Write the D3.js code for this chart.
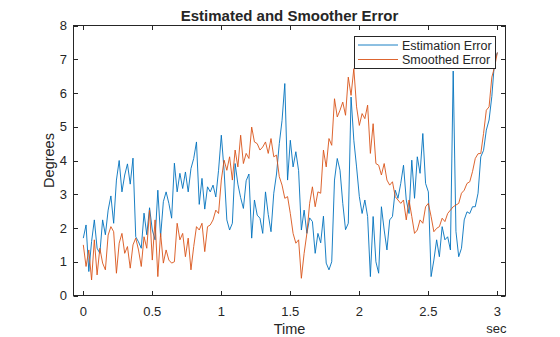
<!DOCTYPE html>
<html>
<head>
<meta charset="utf-8">
<script src="https://cdn.jsdelivr.net/npm/d3@7"></script>
<style>
  html, body { margin: 0; padding: 0; background: #fff; }
  svg { display: block; font-family: "Liberation Sans", Arial, Helvetica, sans-serif; }
  .tick-label { font-size: 13px; fill: #262626; }
</style>
</head>
<body>
<svg id="chart" width="560" height="337"></svg>
<script>
// sample spacing of both error traces (seconds)
const dt = 0.02;

// Estimation error, degrees
const estimationError = [
  1.70, 2.09, 0.71, 1.60, 2.24, 1.40, 1.25, 2.24, 1.80, 2.53,
  2.95, 2.14, 3.42, 4.00, 3.07, 3.57, 3.90, 3.30, 4.07, 1.74,
  1.59, 1.40, 2.44, 1.80, 2.60, 1.94, 1.65, 3.12, 1.74, 2.78,
  3.07, 2.73, 2.29, 3.92, 3.07, 3.62, 3.17, 3.66, 3.07, 3.76,
  4.06, 4.55, 2.70, 3.47, 2.56, 3.22, 3.07, 3.27, 2.92, 3.71,
  4.75, 3.71, 2.24, 1.94, 2.14, 3.91, 3.30, 2.90, 2.58, 3.40,
  3.60, 1.70, 2.83, 2.38, 2.29, 1.84, 3.07, 2.40, 1.89, 3.03,
  3.60, 4.50, 5.19, 6.28, 3.42, 4.60, 3.81, 4.26, 3.70, 1.94,
  2.53, 1.84, 2.30, 2.19, 1.25, 1.84, 1.56, 2.35, 0.96, 0.76,
  1.00, 3.42, 4.06, 3.71, 2.73, 1.95, 2.14, 5.88, 4.60, 3.81,
  2.93, 2.43, 2.83, 2.34, 0.56, 2.34, 1.00, 0.66, 2.63, 1.94,
  1.35, 2.24, 2.34, 3.12, 2.88, 3.32, 3.86, 2.83, 2.43, 4.01,
  2.88, 4.11, 3.62, 4.80, 3.32, 3.07, 0.56, 1.05, 1.65, 1.15,
  2.04, 1.65, 1.74, 1.35, 6.65, 1.90, 1.15, 1.40, 2.24, 2.48,
  2.43, 2.63, 2.63, 3.03, 4.11, 4.30, 4.90, 5.20, 5.90, 6.96,
  7.20
];

// Smoothed error, degrees
const smoothedError = [
  1.50, 0.86, 1.35, 0.46, 1.65, 0.61, 1.40, 0.96, 0.76, 1.79,
  2.04, 1.89, 0.66, 1.55, 1.84, 1.25, 1.45, 0.81, 1.50, 1.70,
  1.35, 0.86, 1.74, 1.40, 2.53, 1.05, 2.24, 0.56, 1.84, 0.96,
  1.35, 1.05, 0.96, 1.00, 2.14, 1.65, 1.84, 1.15, 1.70, 0.76,
  1.45, 2.04, 1.94, 2.14, 1.30, 2.04, 2.09, 2.24, 2.53, 2.43,
  3.42, 4.01, 3.71, 4.11, 3.42, 4.31, 3.81, 4.75, 3.91, 4.21,
  4.06, 4.99, 4.55, 4.50, 4.31, 4.40, 4.55, 4.21, 4.65, 4.11,
  4.16, 3.52, 3.27, 2.88, 2.93, 2.43, 1.84, 1.55, 1.65, 0.51,
  1.25, 1.84, 2.73, 3.22, 2.63, 3.07, 3.03, 4.31, 3.81, 4.65,
  4.45, 5.83, 5.29, 5.49, 5.73, 5.34, 6.47, 5.93, 6.72, 5.59,
  5.04, 5.39, 5.24, 5.64, 4.21, 5.09, 3.91, 3.86, 3.57, 3.91,
  3.42, 3.27, 3.37, 2.93, 2.83, 2.73, 2.83, 2.24, 2.83, 2.34,
  1.84, 1.94, 2.24, 2.14, 2.63, 2.73, 2.34, 1.89, 1.99, 2.04,
  2.29, 2.19, 2.43, 2.53, 2.63, 2.68, 2.73, 3.03, 3.12, 3.32,
  3.37, 3.67, 4.06, 4.20, 4.21, 4.80, 5.49, 5.59, 6.47, 6.77,
  7.20
];

const xTicks = [0, 0.5, 1, 1.5, 2, 2.5, 3];
const yTicks = [0, 1, 2, 3, 4, 5, 6, 7, 8];
const seriesNames = ["Estimation Error", "Smoothed Error"];
const seriesColors = ["#0072BD", "#D95319"];

const ink = "#262626";
const plotLeft = 73.5, plotRight = 505.5, plotTop = 25.5, plotBottom = 295.5;

const svg = d3.select("#chart");

const x = d3.scaleLinear().domain([-0.071, 3.059]).range([plotLeft, plotRight]);
const y = d3.scaleLinear().domain([0, 8]).range([plotBottom, plotTop]);

svg.append("defs").append("clipPath").attr("id", "plot-clip")
  .append("rect")
  .attr("x", plotLeft).attr("y", plotTop)
  .attr("width", plotRight - plotLeft).attr("height", plotBottom - plotTop);

// the two traces
const line = d3.line()
  .x((d, i) => x(i * dt))
  .y(d => y(d));

const traces = svg.append("g").attr("clip-path", "url(#plot-clip)");
[estimationError, smoothedError].forEach((values, i) => {
  traces.append("path")
    .datum(values)
    .attr("fill", "none")
    .attr("stroke", seriesColors[i])
    .attr("stroke-width", 0.9)
    .attr("stroke-linejoin", "round")
    .attr("d", line);
});

// box axes with inward ticks on all four sides
const tickLen = 4.5;
const axisG = svg.append("g");

axisG.append("rect")
  .attr("x", plotLeft).attr("y", plotTop)
  .attr("width", plotRight - plotLeft).attr("height", plotBottom - plotTop)
  .attr("fill", "none").attr("stroke", ink).attr("stroke-width", 1);

const xPos = xTicks.map(v => Math.round(x(v)) + 0.5);
axisG.selectAll(".xtick-b").data(xPos).join("line")
  .attr("class", "xtick-b")
  .attr("x1", d => d).attr("x2", d => d)
  .attr("y1", plotBottom).attr("y2", plotBottom - tickLen)
  .attr("stroke", ink);
axisG.selectAll(".xtick-t").data(xPos).join("line")
  .attr("class", "xtick-t")
  .attr("x1", d => d).attr("x2", d => d)
  .attr("y1", plotTop).attr("y2", plotTop + tickLen)
  .attr("stroke", ink);

const yPos = yTicks.map(v => Math.round(y(v)) + 0.5);
axisG.selectAll(".ytick-l").data(yPos).join("line")
  .attr("class", "ytick-l")
  .attr("x1", plotLeft).attr("x2", plotLeft + tickLen)
  .attr("y1", d => d).attr("y2", d => d)
  .attr("stroke", ink);
axisG.selectAll(".ytick-r").data(yPos).join("line")
  .attr("class", "ytick-r")
  .attr("x1", plotRight).attr("x2", plotRight - tickLen)
  .attr("y1", d => d).attr("y2", d => d)
  .attr("stroke", ink);

svg.append("g").selectAll("text").data(xTicks).join("text")
  .attr("class", "tick-label")
  .attr("x", d => x(d))
  .attr("y", 316)
  .attr("text-anchor", "middle")
  .text(d => d);

svg.append("g").selectAll("text").data(yTicks).join("text")
  .attr("class", "tick-label")
  .attr("x", 67)
  .attr("y", d => y(d) + 4.5)
  .attr("text-anchor", "end")
  .text(d => d);

// title and axis labels
svg.append("text")
  .attr("x", (plotLeft + plotRight) / 2).attr("y", 20.5)
  .attr("text-anchor", "middle")
  .attr("font-size", 15).attr("font-weight", "bold")
  .attr("fill", ink)
  .text("Estimated and Smoother Error");

svg.append("text")
  .attr("x", (plotLeft + plotRight) / 2).attr("y", 334)
  .attr("text-anchor", "middle")
  .attr("font-size", 14.5).attr("fill", ink)
  .text("Time");

svg.append("text")
  .attr("class", "tick-label")
  .attr("x", plotRight + 1).attr("y", 333)
  .attr("text-anchor", "end")
  .text("sec");

svg.append("text")
  .attr("transform", `translate(54, ${(plotTop + plotBottom) / 2}) rotate(-90)`)
  .attr("text-anchor", "middle")
  .attr("font-size", 14.5).attr("fill", ink)
  .text("Degrees");

// legend
const legend = svg.append("g");
legend.append("rect")
  .attr("x", 354.5).attr("y", 36.5)
  .attr("width", 141).attr("height", 32)
  .attr("fill", "#fff").attr("stroke", ink).attr("stroke-width", 1);

const entries = legend.selectAll("g.entry").data(seriesNames).join("g")
  .attr("class", "entry")
  .attr("transform", (d, i) => `translate(0, ${45 + i * 14.5})`);
entries.append("line")
  .attr("x1", 358).attr("x2", 398)
  .attr("y1", 0).attr("y2", 0)
  .attr("stroke", (d, i) => seriesColors[i])
  .attr("stroke-width", 0.9);
entries.append("text")
  .attr("x", 402).attr("y", 4.5)
  .attr("font-size", 12.5).attr("fill", ink)
  .text(d => d);
</script>
</body>
</html>
